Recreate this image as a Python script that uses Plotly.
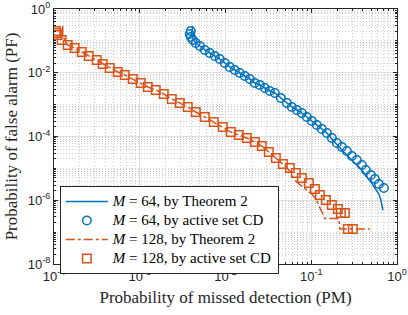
import plotly.graph_objects as go

# ---------------- data ----------------
pm_64_cd = [3.94e-3, 3.83e-3, 3.94e-3, 4.15e-3, 4.50e-3, 5.01e-3, 5.74e-3, 6.56e-3, 7.50e-3, 8.58e-3,
            9.81e-3, 0.01122, 0.01284, 0.01468, 0.01680, 0.01921, 0.02197, 0.02513, 0.02874, 0.03287,
            0.03761, 0.04419, 0.05193, 0.05937, 0.06790, 0.07767, 0.08886, 0.1016, 0.1162, 0.1329,
            0.1521, 0.1739, 0.1989, 0.2276, 0.2603, 0.2977, 0.3405, 0.3895, 0.4336, 0.4960,
            0.5524, 0.6150, 0.7035]
pf_64_cd = [0.2041, 0.1648, 0.1323, 0.1066, 0.08577, 0.06905, 0.05172, 0.04165, 0.03353, 0.02700,
            0.02022, 0.01515, 0.01220, 9.82e-3, 7.91e-3, 6.37e-3, 4.77e-3, 4.13e-3, 3.32e-3, 2.68e-3,
            2.32e-3, 1.61e-3, 1.125e-3, 8.42e-4, 6.78e-4, 5.46e-4, 4.09e-4, 3.06e-4, 2.30e-4, 1.72e-4,
            1.29e-4, 8.97e-5, 6.25e-5, 4.68e-5, 3.51e-5, 2.44e-5, 1.83e-5, 1.28e-5, 8.89e-6, 6.20e-6,
            4.64e-6, 3.24e-6, 2.42e-6]

pm_64_th = [4.15e-3, 4.02e-3, 4.15e-3, 4.50e-3, 5.01e-3, 5.74e-3, 6.56e-3, 7.50e-3, 8.58e-3,
            9.81e-3, 0.01122, 0.01284, 0.01468, 0.01680, 0.01921, 0.02197, 0.02513, 0.02874, 0.03287,
            0.03761, 0.04419, 0.05193, 0.05937, 0.06790, 0.07767, 0.08886, 0.1016, 0.1162, 0.1329,
            0.1521, 0.1739, 0.1989, 0.2276, 0.2603, 0.2977, 0.3405, 0.3895, 0.4336, 0.4960,
            0.5524, 0.6150, 0.6489, 0.6847]
pf_64_th = [0.2929, 0.1766, 0.1180, 0.08577, 0.06905, 0.05172, 0.04165, 0.03353, 0.02700,
            0.02022, 0.01515, 0.01220, 9.82e-3, 7.91e-3, 6.37e-3, 4.77e-3, 4.13e-3, 3.32e-3, 2.68e-3,
            2.32e-3, 1.61e-3, 1.125e-3, 8.42e-4, 6.78e-4, 5.46e-4, 4.09e-4, 3.06e-4, 2.30e-4, 1.72e-4,
            1.29e-4, 8.35e-5, 5.41e-5, 3.77e-5, 2.63e-5, 1.83e-5, 1.28e-5, 8.89e-6, 5.76e-6, 3.74e-6,
            2.42e-6, 1.57e-6, 1.018e-6, 4.94e-7]

pm_128_cd = [1.047e-4, 1.075e-4, 1.105e-4, 1.230e-4, 1.445e-4, 1.744e-4, 2.105e-4, 2.541e-4, 3.150e-4,
             3.701e-4, 4.466e-4, 5.537e-4, 6.683e-4, 8.286e-4, 1.027e-3, 1.240e-3, 1.537e-3, 1.905e-3,
             2.362e-3, 2.929e-3, 3.632e-3, 4.501e-3, 5.735e-3, 7.303e-3, 9.300e-3, 0.01153, 0.01429,
             0.01772, 0.02197, 0.02652, 0.03201, 0.03863, 0.04663, 0.05627, 0.06612, 0.07767, 0.09376,
             0.1102, 0.1260, 0.1481, 0.1739, 0.2044, 0.2215, 0.2467, 0.2674, 0.3057]
pf_128_cd = [0.2041, 0.1766, 0.1528, 0.1066, 0.07424, 0.05976, 0.04477, 0.03353, 0.02512,
             0.01882, 0.01409, 0.01056, 8.50e-3, 6.37e-3, 4.77e-3, 3.57e-3, 2.88e-3, 2.15e-3,
             1.50e-3, 1.125e-3, 8.42e-4, 5.87e-4, 4.09e-4, 2.85e-4, 1.99e-4, 1.38e-4, 1.114e-4,
             8.97e-5, 6.72e-5, 5.03e-5, 3.26e-5, 2.12e-5, 1.37e-5, 1.03e-5, 7.16e-6, 4.99e-6, 3.48e-6,
             2.25e-6, 1.46e-6, 1.02e-6, 7.10e-7, 5.31e-7, 3.98e-7, 3.98e-7, 1.25e-7, 1.25e-7]

pm_128_th = [1.264e-4, 1.264e-4, 1.445e-4, 1.744e-4, 2.105e-4, 2.541e-4, 3.150e-4,
             3.701e-4, 4.466e-4, 5.537e-4, 6.683e-4, 8.286e-4, 1.027e-3, 1.240e-3, 1.537e-3, 1.905e-3,
             2.362e-3, 2.929e-3, 3.632e-3, 4.501e-3, 5.735e-3, 7.303e-3, 9.300e-3, 0.01153, 0.01429,
             0.01772, 0.02197, 0.02652, 0.03201, 0.03863, 0.04663, 0.05627, 0.06100, 0.06977, 0.07980,
             0.09128, 0.1044, 0.1162, 0.1260, 0.1366, 0.1441, 0.1648, 0.2100, 0.2156, 0.4829]
pf_128_th = [0.2929, 0.1422, 0.07424, 0.05976, 0.04477, 0.03353, 0.02512,
             0.01882, 0.01409, 0.01056, 8.50e-3, 6.37e-3, 4.77e-3, 3.57e-3, 2.88e-3, 2.15e-3,
             1.50e-3, 1.125e-3, 8.42e-4, 5.87e-4, 4.09e-4, 2.85e-4, 1.99e-4, 1.38e-4, 1.114e-4,
             8.97e-5, 6.72e-5, 5.03e-5, 3.26e-5, 2.12e-5, 1.37e-5, 8.27e-6, 4.99e-6, 3.48e-6, 2.60e-6,
             1.95e-6, 1.46e-6, 9.47e-7, 6.14e-7, 3.98e-7, 2.70e-7, 2.70e-7, 2.70e-7, 1.25e-7, 1.25e-7]

x_tickvals = [1e-4, 1e-3, 1e-2, 1e-1, 1]
x_ticktext = ["10<sup>-4</sup>", "10<sup>-3</sup>", "10<sup>-2</sup>", "10<sup>-1</sup>", "10<sup>0</sup>"]
y_tickvals = [1e-8, 1e-6, 1e-4, 1e-2, 1]
y_ticktext = ["10<sup>-8</sup>", "10<sup>-6</sup>", "10<sup>-4</sup>", "10<sup>-2</sup>", "10<sup>0</sup>"]
x_range_log = [-4, 0]
y_range_log = [-8, 0]

legend_names = ["<i>M</i> = 64, by Theorem 2", "<i>M</i> = 64, by active set CD",
                "<i>M</i> = 128, by Theorem 2", "<i>M</i> = 128, by active set CD"]

BLUE = "#0072BD"
ORANGE = "#D95319"
SERIF = "Liberation Serif, Times New Roman, serif"
SANS = "Liberation Sans, Arial, sans-serif"
DARK = "#262626"


def lg(name):
    return "<span style='font-size:15px'>" + name + "</span>"


fig = go.Figure()
fig.add_trace(go.Scatter(x=pm_64_th, y=pf_64_th, mode="lines",
                         line=dict(color=BLUE, width=1.5), name=lg(legend_names[0])))
fig.add_trace(go.Scatter(x=pm_64_cd, y=pf_64_cd, mode="markers",
                         marker=dict(symbol="circle-open", size=8.5, color=BLUE, line=dict(width=1.5)),
                         name=lg(legend_names[1])))
fig.add_trace(go.Scatter(x=pm_128_th, y=pf_128_th, mode="lines",
                         line=dict(color=ORANGE, width=1.5, dash="dashdot"), name=lg(legend_names[2])))
fig.add_trace(go.Scatter(x=pm_128_cd, y=pf_128_cd, mode="markers",
                         marker=dict(symbol="square-open", size=8.5, color=ORANGE, line=dict(width=1.5)),
                         name=lg(legend_names[3])))

axis_common = dict(
    type="log", showline=True, linecolor=DARK, linewidth=1, mirror="allticks",
    ticks="inside", ticklen=4, tickcolor=DARK, tickwidth=1, automargin=False,
    showgrid=True, gridcolor="#dedede", gridwidth=1, zeroline=False, tickangle=0,
    tickfont=dict(family=SANS, size=13, color=DARK), tickmode="array",
    minor=dict(dtick="D1", ticks="inside", ticklen=2, tickcolor=DARK,
               showgrid=True, gridcolor="#cfcfcf", griddash="1px,2px", gridwidth=1),
)

fig.update_layout(
    template="none",
    width=408, height=315,
    margin=dict(l=54, r=11, t=9, b=51),
    paper_bgcolor="white", plot_bgcolor="white",
    showlegend=True,
    xaxis=dict(**axis_common, range=x_range_log, tickvals=x_tickvals, ticktext=x_ticktext,
               title=dict(text="Probability of missed detection (PM)",
                          font=dict(family=SERIF, size=17, color=DARK), standoff=8)),
    yaxis=dict(**axis_common, range=y_range_log, tickvals=y_tickvals, ticktext=y_ticktext,
               title=dict(text="Probability of false alarm (PF)",
                          font=dict(family=SERIF, size=17, color=DARK), standoff=5)),
    legend=dict(x=0.017, y=0.306, xanchor="left", yanchor="top",
                bgcolor="white", bordercolor=DARK, borderwidth=1,
                font=dict(family=SERIF, size=12.3, color="#000000"),
                tracegroupgap=0, itemwidth=42),
)

fig.write_html("out.html", config={"displayModeBar": False},
               post_script="document.body.style.margin='0px';")
